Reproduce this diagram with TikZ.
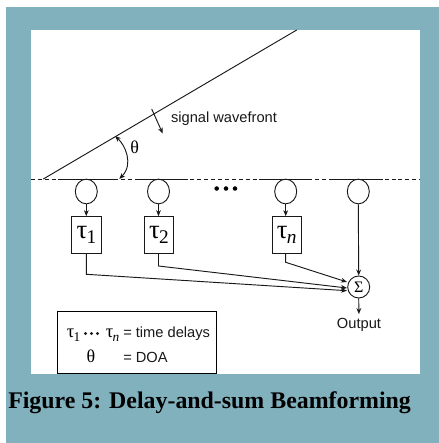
\documentclass[tikz,border=0pt]{standalone}
\usepackage{fontspec}
\setmainfont{Liberation Serif}
\newfontfamily\arialfont{Liberation Sans}
\usetikzlibrary{arrows.meta,shapes.geometric}
\definecolor{panel}{RGB}{130,177,190}
\newcommand{\subtau}[1]{\fontsize{20}{20}\selectfont τ\kern-0.5pt\raisebox{-4pt}{\fontsize{14.5}{14.5}\selectfont #1}}
\newcommand{\smalltau}[1]{\fontsize{14}{14}\selectfont τ\kern-0.5pt\raisebox{-3pt}{\fontsize{10}{10}\selectfont #1}}
\tikzset{
  wire/.style={draw=black!90,line width=0.7pt},
  flow/.style={wire,-{Stealth[length=4.5pt,width=3.6pt]}},
  sensor/.style={draw=black!90,line width=0.7pt,ellipse,minimum width=16.5pt,minimum height=18.5pt,inner sep=0pt},
  delaybox/.style={draw=black!90,line width=0.75pt,minimum width=22pt,minimum height=27.5pt,inner sep=0pt},
  sans/.style={font=\arialfont\fontsize{11}{11}\selectfont,text=black!90,inner sep=0pt},
  thetatext/.style={font=\fontsize{13.5}{13.5}\selectfont,inner sep=0pt},
}
\begin{document}
\begin{tikzpicture}[x=0.75pt,y=-0.75pt]
\useasboundingbox (0,0) rectangle (439,443);
\fill[white] (0,0) rectangle (439,443);
\fill[panel] (6,7) rectangle (439,443);
\fill[white] (31,30) rectangle (420,374);
% baseline
\coordinate (baseL) at (31,179);
\coordinate (baseR) at (420,179);
\draw[wire,dash pattern=on 3pt off 2.2pt] (baseL) -- (baseR);
\draw[wire] (58,179) -- (115,179);
\draw[wire] (135,179) -- (185,179);
\draw[wire] (259,179) -- (312,179);
\draw[wire] (330,179) -- (383,179);
% wavefront
\coordinate (waveA) at (43.3,179);
\coordinate (waveB) at (296.7,30);
\draw[wire] (waveA) -- (waveB);
\coordinate (dirA) at (151.7,109);
\coordinate (dirB) at (162.7,133.5);
\draw[flow] (dirA) -- (dirB);
\node[sans] (wavelabel) at (224,118.5) {signal wavefront};
% angle
\coordinate (angA) at (115,136);
\coordinate (angB) at (119.3,179);
\draw[wire,{Stealth[length=4.5pt,width=3.6pt]}-{Stealth[length=4.5pt,width=3.6pt]}] (angA) .. controls (125,145) and (134,164) .. (angB);
\node[thetatext] (thetalabel) at (134.7,147.5) {θ};
% dots
\fill[black] (216.7,188.5) circle[radius=1.7pt] (226,188.5) circle[radius=1.7pt] (235,188.5) circle[radius=1.7pt];
% sensors
\node[sensor] (s1) at (86.3,191.5) {};
\node[sensor] (s2) at (158.5,191.5) {};
\node[sensor] (s3) at (285.7,191.5) {};
\node[sensor] (s4) at (358.3,191.5) {};
% delays
\node[delaybox] (d1) at (86.5,235) {\subtau{1}};
\node[delaybox] (d2) at (159,235) {\subtau{2}};
\node[delaybox] (d3) at (286.8,235) {\subtau{\itshape n}};
% sum
\node[draw=black!90,line width=0.7pt,circle,minimum size=16.5pt,inner sep=0pt,font=\fontsize{12}{12}\selectfont] (sum) at (358.7,287) {Σ};
\node[sans] (output) at (359,325) {Output};
\draw[flow] (s1.south) -- (d1.north-|s1.south);
\draw[flow] (s2.south) -- (d2.north-|s2.south);
\draw[flow] (s3.south) -- (d3.north-|s3.south);
\draw[flow] (s4.south) -- (sum.north);
\draw[flow,shorten >=3pt] (sum.south) -- (output.north);
\coordinate (k1) at (86.3,274.3);
\coordinate (k2) at (158.5,266);
\coordinate (k3) at (285.7,262.3);
\coordinate (e1) at (347,290.7);
\coordinate (e2) at (347,288);
\coordinate (e3) at (347,282);
\draw[flow] (k1|-d1.south) -- (k1) -- (e1);
\draw[flow] (k2|-d2.south) -- (k2) -- (e2);
\draw[flow] (k3|-d3.south) -- (k3) -- (e3);
% legend
\node[draw=black,line width=0.75pt,minimum width=119.5pt,minimum height=46.5pt,inner sep=0pt] (legend) at (137.3,342.5) {};
\node[inner sep=0pt,anchor=base west] (lt1) at (66.5,337.5) {\smalltau{1}};
\fill[black!90] (85.5,333.5) circle[radius=1.3pt] (91.5,333.5) circle[radius=1.3pt] (97.5,333.5) circle[radius=1.3pt];
\node[inner sep=0pt,anchor=base west] (ltn) at (105.5,337.5) {\smalltau{\itshape n}};
\node[sans,anchor=base west] (ldelay) at (123,337.5) {= time delays};
\node[thetatext,anchor=base] (lth) at (91,362) {θ};
\node[sans,anchor=base west] (ldoa) at (123,362) {= DOA};
% caption
\node[inner sep=0pt,anchor=base west,font=\bfseries\fontsize{17.9}{17.9}\selectfont] (caption) at (8,408) {Figure 5: Delay-and-sum Beamforming};
\end{tikzpicture}
\end{document}
